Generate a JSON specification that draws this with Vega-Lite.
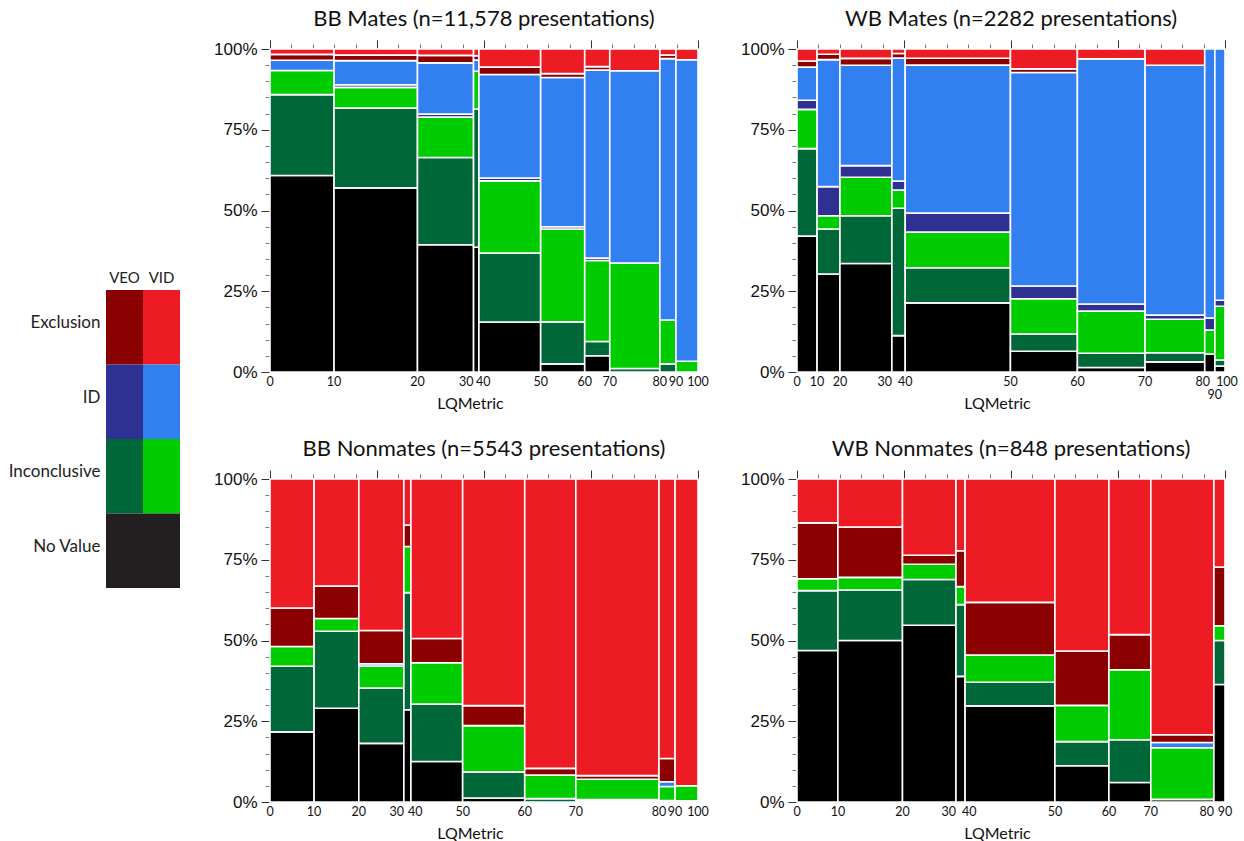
{
  "$schema": "https://vega.github.io/schema/vega-lite/v6.json",
  "padding": {"left": 8, "top": 7, "right": 5, "bottom": 5},
  "background": "white",
  "config": {"view": {"stroke": null}, "font": "Lato"},
  "spacing": 33,
  "resolve": {"scale": {"color": "independent"}},
  "hconcat": [
    {
      "width": 74,
      "height": 760,
      "data": {
        "values": [
          {"verdict": "Exclusion", "source": "VEO", "cat": "Exclusion VEO"},
          {"verdict": "Exclusion", "source": "VID", "cat": "Exclusion VID"},
          {"verdict": "ID", "source": "VEO", "cat": "ID VEO"},
          {"verdict": "ID", "source": "VID", "cat": "ID VID"},
          {"verdict": "Inconclusive", "source": "VEO", "cat": "Inconclusive VEO"},
          {"verdict": "Inconclusive", "source": "VID", "cat": "Inconclusive VID"},
          {"verdict": "No Value", "source": "VEO", "cat": "No Value"},
          {"verdict": "No Value", "source": "VID", "cat": "No Value"}
        ]
      },
      "encoding": {
        "x": {"field": "source", "type": "nominal", "axis": null, "scale": {"paddingInner": 0, "paddingOuter": 0}},
        "y": {
          "field": "verdict",
          "type": "nominal",
          "sort": ["Exclusion", "ID", "Inconclusive", "No Value"],
          "scale": {"paddingInner": 0, "paddingOuter": 0, "range": [241, 539]},
          "axis": {"title": null, "domain": false, "ticks": false, "labelFont": "Lato", "labelFontSize": 17, "labelColor": "#222", "labelPadding": 6, "labelOffset": -4}
        }
      },
      "layer": [
        {
          "mark": {"type": "rect"},
          "encoding": {
            "color": {
              "field": "cat",
              "type": "nominal",
              "legend": null,
              "scale": {
                "domain": ["No Value", "Inconclusive VEO", "Inconclusive VID", "ID VEO", "ID VID", "Exclusion VEO", "Exclusion VID"],
                "range": ["#231f20", "#006838", "#00cc00", "#2e3192", "#327ff0", "#8b0000", "#ed1c24"]
              }
            }
          }
        },
        {
          "transform": [{"filter": "datum.verdict == 'Exclusion'"}],
          "mark": {"type": "text", "baseline": "alphabetic", "dy": -44, "font": "Lato", "fontSize": 15, "color": "#222"},
          "encoding": {"text": {"field": "source"}}
        }
      ]
    },
    {
      "data": {
        "values": [
          {"panel": "BB Mates", "bin": 0, "cat": "No Value", "n": 1054},
          {"panel": "BB Mates", "bin": 0, "cat": "Inconclusive VEO", "n": 434},
          {"panel": "BB Mates", "bin": 0, "cat": "Inconclusive VID", "n": 130},
          {"panel": "BB Mates", "bin": 0, "cat": "ID VID", "n": 55},
          {"panel": "BB Mates", "bin": 0, "cat": "Exclusion VEO", "n": 31},
          {"panel": "BB Mates", "bin": 0, "cat": "Exclusion VID", "n": 29},
          {"panel": "BB Mates", "bin": 10, "cat": "No Value", "n": 1287},
          {"panel": "BB Mates", "bin": 10, "cat": "Inconclusive VEO", "n": 558},
          {"panel": "BB Mates", "bin": 10, "cat": "Inconclusive VID", "n": 145},
          {"panel": "BB Mates", "bin": 10, "cat": "ID VEO", "n": 18},
          {"panel": "BB Mates", "bin": 10, "cat": "ID VID", "n": 169},
          {"panel": "BB Mates", "bin": 10, "cat": "Exclusion VEO", "n": 38},
          {"panel": "BB Mates", "bin": 10, "cat": "Exclusion VID", "n": 43},
          {"panel": "BB Mates", "bin": 20, "cat": "No Value", "n": 598},
          {"panel": "BB Mates", "bin": 20, "cat": "Inconclusive VEO", "n": 410},
          {"panel": "BB Mates", "bin": 20, "cat": "Inconclusive VID", "n": 190},
          {"panel": "BB Mates", "bin": 20, "cat": "ID VEO", "n": 14},
          {"panel": "BB Mates", "bin": 20, "cat": "ID VID", "n": 241},
          {"panel": "BB Mates", "bin": 20, "cat": "Exclusion VEO", "n": 35},
          {"panel": "BB Mates", "bin": 20, "cat": "Exclusion VID", "n": 30},
          {"panel": "BB Mates", "bin": 30, "cat": "No Value", "n": 56},
          {"panel": "BB Mates", "bin": 30, "cat": "Inconclusive VEO", "n": 62},
          {"panel": "BB Mates", "bin": 30, "cat": "Inconclusive VID", "n": 17},
          {"panel": "BB Mates", "bin": 30, "cat": "ID VID", "n": 5},
          {"panel": "BB Mates", "bin": 30, "cat": "Exclusion VEO", "n": 2},
          {"panel": "BB Mates", "bin": 30, "cat": "Exclusion VID", "n": 3},
          {"panel": "BB Mates", "bin": 40, "cat": "No Value", "n": 259},
          {"panel": "BB Mates", "bin": 40, "cat": "Inconclusive VEO", "n": 356},
          {"panel": "BB Mates", "bin": 40, "cat": "Inconclusive VID", "n": 374},
          {"panel": "BB Mates", "bin": 40, "cat": "ID VEO", "n": 15},
          {"panel": "BB Mates", "bin": 40, "cat": "ID VID", "n": 535},
          {"panel": "BB Mates", "bin": 40, "cat": "Exclusion VEO", "n": 38},
          {"panel": "BB Mates", "bin": 40, "cat": "Exclusion VID", "n": 94},
          {"panel": "BB Mates", "bin": 50, "cat": "No Value", "n": 30},
          {"panel": "BB Mates", "bin": 50, "cat": "Inconclusive VEO", "n": 155},
          {"panel": "BB Mates", "bin": 50, "cat": "Inconclusive VID", "n": 343},
          {"panel": "BB Mates", "bin": 50, "cat": "ID VEO", "n": 8},
          {"panel": "BB Mates", "bin": 50, "cat": "ID VID", "n": 551},
          {"panel": "BB Mates", "bin": 50, "cat": "Exclusion VEO", "n": 14},
          {"panel": "BB Mates", "bin": 50, "cat": "Exclusion VID", "n": 91},
          {"panel": "BB Mates", "bin": 60, "cat": "No Value", "n": 34},
          {"panel": "BB Mates", "bin": 60, "cat": "Inconclusive VEO", "n": 30},
          {"panel": "BB Mates", "bin": 60, "cat": "Inconclusive VID", "n": 170},
          {"panel": "BB Mates", "bin": 60, "cat": "ID VEO", "n": 5},
          {"panel": "BB Mates", "bin": 60, "cat": "ID VID", "n": 395},
          {"panel": "BB Mates", "bin": 60, "cat": "Exclusion VEO", "n": 7},
          {"panel": "BB Mates", "bin": 60, "cat": "Exclusion VID", "n": 37},
          {"panel": "BB Mates", "bin": 70, "cat": "Inconclusive VEO", "n": 15},
          {"panel": "BB Mates", "bin": 70, "cat": "Inconclusive VID", "n": 442},
          {"panel": "BB Mates", "bin": 70, "cat": "ID VID", "n": 808},
          {"panel": "BB Mates", "bin": 70, "cat": "Exclusion VID", "n": 91},
          {"panel": "BB Mates", "bin": 80, "cat": "Inconclusive VEO", "n": 11},
          {"panel": "BB Mates", "bin": 80, "cat": "Inconclusive VID", "n": 59},
          {"panel": "BB Mates", "bin": 80, "cat": "ID VID", "n": 352},
          {"panel": "BB Mates", "bin": 80, "cat": "Exclusion VEO", "n": 5},
          {"panel": "BB Mates", "bin": 80, "cat": "Exclusion VID", "n": 8},
          {"panel": "BB Mates", "bin": 90, "cat": "Inconclusive VID", "n": 20},
          {"panel": "BB Mates", "bin": 90, "cat": "ID VID", "n": 557},
          {"panel": "BB Mates", "bin": 90, "cat": "Exclusion VID", "n": 20},
          {"panel": "BB Mates", "bin": 100, "cat": "No Value", "n": 0},

          {"panel": "WB Mates", "bin": 0, "cat": "No Value", "n": 45},
          {"panel": "WB Mates", "bin": 0, "cat": "Inconclusive VEO", "n": 29},
          {"panel": "WB Mates", "bin": 0, "cat": "Inconclusive VID", "n": 13},
          {"panel": "WB Mates", "bin": 0, "cat": "ID VEO", "n": 3},
          {"panel": "WB Mates", "bin": 0, "cat": "ID VID", "n": 11},
          {"panel": "WB Mates", "bin": 0, "cat": "Exclusion VEO", "n": 2},
          {"panel": "WB Mates", "bin": 0, "cat": "Exclusion VID", "n": 4},
          {"panel": "WB Mates", "bin": 10, "cat": "No Value", "n": 37},
          {"panel": "WB Mates", "bin": 10, "cat": "Inconclusive VEO", "n": 17},
          {"panel": "WB Mates", "bin": 10, "cat": "Inconclusive VID", "n": 5},
          {"panel": "WB Mates", "bin": 10, "cat": "ID VEO", "n": 11},
          {"panel": "WB Mates", "bin": 10, "cat": "ID VID", "n": 48},
          {"panel": "WB Mates", "bin": 10, "cat": "Exclusion VEO", "n": 2},
          {"panel": "WB Mates", "bin": 10, "cat": "Exclusion VID", "n": 2},
          {"panel": "WB Mates", "bin": 20, "cat": "No Value", "n": 93},
          {"panel": "WB Mates", "bin": 20, "cat": "Inconclusive VEO", "n": 41},
          {"panel": "WB Mates", "bin": 20, "cat": "Inconclusive VID", "n": 33},
          {"panel": "WB Mates", "bin": 20, "cat": "ID VEO", "n": 10},
          {"panel": "WB Mates", "bin": 20, "cat": "ID VID", "n": 86},
          {"panel": "WB Mates", "bin": 20, "cat": "Exclusion VEO", "n": 6},
          {"panel": "WB Mates", "bin": 20, "cat": "Exclusion VID", "n": 8},
          {"panel": "WB Mates", "bin": 30, "cat": "No Value", "n": 8},
          {"panel": "WB Mates", "bin": 30, "cat": "Inconclusive VEO", "n": 28},
          {"panel": "WB Mates", "bin": 30, "cat": "Inconclusive VID", "n": 4},
          {"panel": "WB Mates", "bin": 30, "cat": "ID VEO", "n": 2},
          {"panel": "WB Mates", "bin": 30, "cat": "ID VID", "n": 27},
          {"panel": "WB Mates", "bin": 30, "cat": "Exclusion VEO", "n": 1},
          {"panel": "WB Mates", "bin": 30, "cat": "Exclusion VID", "n": 1},
          {"panel": "WB Mates", "bin": 40, "cat": "No Value", "n": 120},
          {"panel": "WB Mates", "bin": 40, "cat": "Inconclusive VEO", "n": 61},
          {"panel": "WB Mates", "bin": 40, "cat": "Inconclusive VID", "n": 62},
          {"panel": "WB Mates", "bin": 40, "cat": "ID VEO", "n": 33},
          {"panel": "WB Mates", "bin": 40, "cat": "ID VID", "n": 257},
          {"panel": "WB Mates", "bin": 40, "cat": "Exclusion VEO", "n": 12},
          {"panel": "WB Mates", "bin": 40, "cat": "Exclusion VID", "n": 16},
          {"panel": "WB Mates", "bin": 50, "cat": "No Value", "n": 23},
          {"panel": "WB Mates", "bin": 50, "cat": "Inconclusive VEO", "n": 19},
          {"panel": "WB Mates", "bin": 50, "cat": "Inconclusive VID", "n": 39},
          {"panel": "WB Mates", "bin": 50, "cat": "ID VEO", "n": 14},
          {"panel": "WB Mates", "bin": 50, "cat": "ID VID", "n": 236},
          {"panel": "WB Mates", "bin": 50, "cat": "Exclusion VEO", "n": 4},
          {"panel": "WB Mates", "bin": 50, "cat": "Exclusion VID", "n": 22},
          {"panel": "WB Mates", "bin": 60, "cat": "No Value", "n": 5},
          {"panel": "WB Mates", "bin": 60, "cat": "Inconclusive VEO", "n": 16},
          {"panel": "WB Mates", "bin": 60, "cat": "Inconclusive VID", "n": 47},
          {"panel": "WB Mates", "bin": 60, "cat": "ID VEO", "n": 8},
          {"panel": "WB Mates", "bin": 60, "cat": "ID VID", "n": 274},
          {"panel": "WB Mates", "bin": 60, "cat": "Exclusion VID", "n": 11},
          {"panel": "WB Mates", "bin": 70, "cat": "No Value", "n": 10},
          {"panel": "WB Mates", "bin": 70, "cat": "Inconclusive VEO", "n": 9},
          {"panel": "WB Mates", "bin": 70, "cat": "Inconclusive VID", "n": 33},
          {"panel": "WB Mates", "bin": 70, "cat": "ID VEO", "n": 4},
          {"panel": "WB Mates", "bin": 70, "cat": "ID VID", "n": 246},
          {"panel": "WB Mates", "bin": 70, "cat": "Exclusion VID", "n": 16},
          {"panel": "WB Mates", "bin": 80, "cat": "No Value", "n": 3},
          {"panel": "WB Mates", "bin": 80, "cat": "Inconclusive VID", "n": 4},
          {"panel": "WB Mates", "bin": 80, "cat": "ID VEO", "n": 2},
          {"panel": "WB Mates", "bin": 80, "cat": "ID VID", "n": 45},
          {"panel": "WB Mates", "bin": 90, "cat": "No Value", "n": 1},
          {"panel": "WB Mates", "bin": 90, "cat": "Inconclusive VEO", "n": 1},
          {"panel": "WB Mates", "bin": 90, "cat": "Inconclusive VID", "n": 9},
          {"panel": "WB Mates", "bin": 90, "cat": "ID VEO", "n": 1},
          {"panel": "WB Mates", "bin": 90, "cat": "ID VID", "n": 42},
          {"panel": "WB Mates", "bin": 100, "cat": "No Value", "n": 0},

          {"panel": "BB Nonmates", "bin": 0, "cat": "No Value", "n": 124},
          {"panel": "BB Nonmates", "bin": 0, "cat": "Inconclusive VEO", "n": 116},
          {"panel": "BB Nonmates", "bin": 0, "cat": "Inconclusive VID", "n": 35},
          {"panel": "BB Nonmates", "bin": 0, "cat": "Exclusion VEO", "n": 68},
          {"panel": "BB Nonmates", "bin": 0, "cat": "Exclusion VID", "n": 228},
          {"panel": "BB Nonmates", "bin": 10, "cat": "No Value", "n": 168},
          {"panel": "BB Nonmates", "bin": 10, "cat": "Inconclusive VEO", "n": 138},
          {"panel": "BB Nonmates", "bin": 10, "cat": "Inconclusive VID", "n": 23},
          {"panel": "BB Nonmates", "bin": 10, "cat": "Exclusion VEO", "n": 58},
          {"panel": "BB Nonmates", "bin": 10, "cat": "Exclusion VID", "n": 192},
          {"panel": "BB Nonmates", "bin": 20, "cat": "No Value", "n": 106},
          {"panel": "BB Nonmates", "bin": 20, "cat": "Inconclusive VEO", "n": 100},
          {"panel": "BB Nonmates", "bin": 20, "cat": "Inconclusive VID", "n": 40},
          {"panel": "BB Nonmates", "bin": 20, "cat": "ID VID", "n": 4},
          {"panel": "BB Nonmates", "bin": 20, "cat": "Exclusion VEO", "n": 60},
          {"panel": "BB Nonmates", "bin": 20, "cat": "Exclusion VID", "n": 274},
          {"panel": "BB Nonmates", "bin": 30, "cat": "No Value", "n": 26},
          {"panel": "BB Nonmates", "bin": 30, "cat": "Inconclusive VEO", "n": 33},
          {"panel": "BB Nonmates", "bin": 30, "cat": "Inconclusive VID", "n": 13},
          {"panel": "BB Nonmates", "bin": 30, "cat": "Exclusion VEO", "n": 6},
          {"panel": "BB Nonmates", "bin": 30, "cat": "Exclusion VID", "n": 13},
          {"panel": "BB Nonmates", "bin": 40, "cat": "No Value", "n": 84},
          {"panel": "BB Nonmates", "bin": 40, "cat": "Inconclusive VEO", "n": 119},
          {"panel": "BB Nonmates", "bin": 40, "cat": "Inconclusive VID", "n": 86},
          {"panel": "BB Nonmates", "bin": 40, "cat": "Exclusion VEO", "n": 50},
          {"panel": "BB Nonmates", "bin": 40, "cat": "Exclusion VID", "n": 331},
          {"panel": "BB Nonmates", "bin": 50, "cat": "No Value", "n": 10},
          {"panel": "BB Nonmates", "bin": 50, "cat": "Inconclusive VEO", "n": 65},
          {"panel": "BB Nonmates", "bin": 50, "cat": "Inconclusive VID", "n": 115},
          {"panel": "BB Nonmates", "bin": 50, "cat": "Exclusion VEO", "n": 50},
          {"panel": "BB Nonmates", "bin": 50, "cat": "Exclusion VID", "n": 564},
          {"panel": "BB Nonmates", "bin": 60, "cat": "Inconclusive VEO", "n": 7},
          {"panel": "BB Nonmates", "bin": 60, "cat": "Inconclusive VID", "n": 48},
          {"panel": "BB Nonmates", "bin": 60, "cat": "Exclusion VEO", "n": 14},
          {"panel": "BB Nonmates", "bin": 60, "cat": "Exclusion VID", "n": 593},
          {"panel": "BB Nonmates", "bin": 70, "cat": "No Value", "n": 2},
          {"panel": "BB Nonmates", "bin": 70, "cat": "Inconclusive VEO", "n": 6},
          {"panel": "BB Nonmates", "bin": 70, "cat": "Inconclusive VID", "n": 68},
          {"panel": "BB Nonmates", "bin": 70, "cat": "Exclusion VEO", "n": 12},
          {"panel": "BB Nonmates", "bin": 70, "cat": "Exclusion VID", "n": 989},
          {"panel": "BB Nonmates", "bin": 80, "cat": "No Value", "n": 1},
          {"panel": "BB Nonmates", "bin": 80, "cat": "Inconclusive VID", "n": 9},
          {"panel": "BB Nonmates", "bin": 80, "cat": "ID VID", "n": 3},
          {"panel": "BB Nonmates", "bin": 80, "cat": "Exclusion VEO", "n": 15},
          {"panel": "BB Nonmates", "bin": 80, "cat": "Exclusion VID", "n": 180},
          {"panel": "BB Nonmates", "bin": 90, "cat": "No Value", "n": 1},
          {"panel": "BB Nonmates", "bin": 90, "cat": "Inconclusive VID", "n": 14},
          {"panel": "BB Nonmates", "bin": 90, "cat": "Exclusion VID", "n": 282},
          {"panel": "BB Nonmates", "bin": 100, "cat": "No Value", "n": 0},

          {"panel": "WB Nonmates", "bin": 0, "cat": "No Value", "n": 38},
          {"panel": "WB Nonmates", "bin": 0, "cat": "Inconclusive VEO", "n": 15},
          {"panel": "WB Nonmates", "bin": 0, "cat": "Inconclusive VID", "n": 3},
          {"panel": "WB Nonmates", "bin": 0, "cat": "Exclusion VEO", "n": 14},
          {"panel": "WB Nonmates", "bin": 0, "cat": "Exclusion VID", "n": 11},
          {"panel": "WB Nonmates", "bin": 10, "cat": "No Value", "n": 64},
          {"panel": "WB Nonmates", "bin": 10, "cat": "Inconclusive VEO", "n": 20},
          {"panel": "WB Nonmates", "bin": 10, "cat": "Inconclusive VID", "n": 5},
          {"panel": "WB Nonmates", "bin": 10, "cat": "Exclusion VEO", "n": 20},
          {"panel": "WB Nonmates", "bin": 10, "cat": "Exclusion VID", "n": 19},
          {"panel": "WB Nonmates", "bin": 20, "cat": "No Value", "n": 58},
          {"panel": "WB Nonmates", "bin": 20, "cat": "Inconclusive VEO", "n": 15},
          {"panel": "WB Nonmates", "bin": 20, "cat": "Inconclusive VID", "n": 5},
          {"panel": "WB Nonmates", "bin": 20, "cat": "Exclusion VEO", "n": 3},
          {"panel": "WB Nonmates", "bin": 20, "cat": "Exclusion VID", "n": 25},
          {"panel": "WB Nonmates", "bin": 30, "cat": "No Value", "n": 7},
          {"panel": "WB Nonmates", "bin": 30, "cat": "Inconclusive VEO", "n": 4},
          {"panel": "WB Nonmates", "bin": 30, "cat": "Inconclusive VID", "n": 1},
          {"panel": "WB Nonmates", "bin": 30, "cat": "Exclusion VEO", "n": 2},
          {"panel": "WB Nonmates", "bin": 30, "cat": "Exclusion VID", "n": 4},
          {"panel": "WB Nonmates", "bin": 40, "cat": "No Value", "n": 53},
          {"panel": "WB Nonmates", "bin": 40, "cat": "Inconclusive VEO", "n": 13},
          {"panel": "WB Nonmates", "bin": 40, "cat": "Inconclusive VID", "n": 15},
          {"panel": "WB Nonmates", "bin": 40, "cat": "Exclusion VEO", "n": 29},
          {"panel": "WB Nonmates", "bin": 40, "cat": "Exclusion VID", "n": 68},
          {"panel": "WB Nonmates", "bin": 50, "cat": "No Value", "n": 12},
          {"panel": "WB Nonmates", "bin": 50, "cat": "Inconclusive VEO", "n": 8},
          {"panel": "WB Nonmates", "bin": 50, "cat": "Inconclusive VID", "n": 12},
          {"panel": "WB Nonmates", "bin": 50, "cat": "Exclusion VEO", "n": 18},
          {"panel": "WB Nonmates", "bin": 50, "cat": "Exclusion VID", "n": 57},
          {"panel": "WB Nonmates", "bin": 60, "cat": "No Value", "n": 5},
          {"panel": "WB Nonmates", "bin": 60, "cat": "Inconclusive VEO", "n": 11},
          {"panel": "WB Nonmates", "bin": 60, "cat": "Inconclusive VID", "n": 18},
          {"panel": "WB Nonmates", "bin": 60, "cat": "Exclusion VEO", "n": 9},
          {"panel": "WB Nonmates", "bin": 60, "cat": "Exclusion VID", "n": 40},
          {"panel": "WB Nonmates", "bin": 70, "cat": "No Value", "n": 1},
          {"panel": "WB Nonmates", "bin": 70, "cat": "Inconclusive VID", "n": 20},
          {"panel": "WB Nonmates", "bin": 70, "cat": "ID VID", "n": 2},
          {"panel": "WB Nonmates", "bin": 70, "cat": "Exclusion VEO", "n": 3},
          {"panel": "WB Nonmates", "bin": 70, "cat": "Exclusion VID", "n": 99},
          {"panel": "WB Nonmates", "bin": 80, "cat": "No Value", "n": 8},
          {"panel": "WB Nonmates", "bin": 80, "cat": "Inconclusive VEO", "n": 3},
          {"panel": "WB Nonmates", "bin": 80, "cat": "Inconclusive VID", "n": 1},
          {"panel": "WB Nonmates", "bin": 80, "cat": "Exclusion VEO", "n": 4},
          {"panel": "WB Nonmates", "bin": 80, "cat": "Exclusion VID", "n": 6},
          {"panel": "WB Nonmates", "bin": 90, "cat": "No Value", "n": 0}
        ]
      },
      "transform": [
        {"calculate": "indexof(['No Value','Inconclusive VEO','Inconclusive VID','ID VEO','ID VID','Exclusion VEO','Exclusion VID'], datum.cat)", "as": "ord"},
        {"stack": "n", "groupby": ["panel"], "sort": [{"field": "bin", "order": "ascending"}, {"field": "ord", "order": "ascending"}], "offset": "normalize", "as": ["s0", "s1"]},
        {"joinaggregate": [{"op": "min", "field": "s0", "as": "x0"}, {"op": "max", "field": "s1", "as": "x1"}], "groupby": ["panel", "bin"]},
        {"stack": "n", "groupby": ["panel", "bin"], "sort": [{"field": "ord", "order": "ascending"}], "offset": "normalize", "as": ["y0", "y1"]}
      ],
      "facet": {
        "field": "panel",
        "type": "nominal",
        "sort": ["BB Mates", "WB Mates", "BB Nonmates", "WB Nonmates"],
        "title": null,
        "header": {
          "labelExpr": "datum.value == 'BB Mates' ? 'BB Mates (n=11,578 presentations)' : datum.value == 'WB Mates' ? 'WB Mates (n=2282 presentations)' : datum.value == 'BB Nonmates' ? 'BB Nonmates (n=5543 presentations)' : 'WB Nonmates (n=848 presentations)'",
          "labelFont": "Lato",
          "labelFontSize": 22,
          "labelColor": "#111",
          "labelPadding": 9
        }
      },
      "columns": 2,
      "spacing": {"row": 26, "column": 29},
      "resolve": {"axis": {"x": "independent", "y": "independent"}},
      "spec": {
        "width": 428,
        "height": 323,
        "resolve": {"axis": {"x": "independent"}},
        "layer": [
          {
            "transform": [{"filter": "datum.n > 0"}],
            "mark": {"type": "rect", "stroke": "white", "strokeWidth": 1.6},
            "encoding": {
              "x": {
                "field": "x0",
                "type": "quantitative",
                "scale": {"domain": [0, 1], "nice": false, "zero": false},
                "axis": {
                  "orient": "top",
                  "title": null,
                  "labels": false,
                  "domain": false,
                  "grid": false,
                  "values": [0, 0.05, 0.1, 0.15, 0.2, 0.25, 0.3, 0.35, 0.4, 0.45, 0.5, 0.55, 0.6, 0.65, 0.7, 0.75, 0.8, 0.85, 0.9, 0.95, 1],
                  "tickSize": {"condition": {"test": "abs(datum.value * 4 - round(datum.value * 4)) < 0.001", "value": 9}, "value": 5},
                  "tickColor": {"condition": {"test": "abs(datum.value * 4 - round(datum.value * 4)) < 0.001", "value": "#333"}, "value": "#777"}
                }
              },
              "x2": {"field": "x1"},
              "y": {
                "field": "y0",
                "type": "quantitative",
                "scale": {"domain": [0, 1], "nice": false},
                "axis": {
                  "orient": "left",
                  "title": null,
                  "domain": false,
                  "grid": false,
                  "values": [0, 0.05, 0.1, 0.15, 0.2, 0.25, 0.3, 0.35, 0.4, 0.45, 0.5, 0.55, 0.6, 0.65, 0.7, 0.75, 0.8, 0.85, 0.9, 0.95, 1],
                  "labelExpr": "abs(datum.value * 4 - round(datum.value * 4)) < 0.001 ? format(datum.value, '.0%') : ''",
                  "labelFont": "Liberation Sans",
                  "labelFontSize": 17,
                  "labelColor": "#111",
                  "labelPadding": 4,
                  "tickSize": {"condition": {"test": "abs(datum.value * 4 - round(datum.value * 4)) < 0.001", "value": 9}, "value": 5},
                  "tickColor": {"condition": {"test": "abs(datum.value * 4 - round(datum.value * 4)) < 0.001", "value": "#333"}, "value": "#777"}
                }
              },
              "y2": {"field": "y1"},
              "color": {
                "field": "cat",
                "type": "nominal",
                "legend": null,
                "scale": {
                  "domain": ["No Value", "Inconclusive VEO", "Inconclusive VID", "ID VEO", "ID VID", "Exclusion VEO", "Exclusion VID"],
                  "range": ["#000000", "#006838", "#00cc00", "#2e3192", "#327ff0", "#8b0000", "#ed1c24"]
                }
              }
            }
          },
          {
            "transform": [
              {"aggregate": [{"op": "min", "field": "x0", "as": "lx"}], "groupby": ["panel", "bin"]},
              {"window": [{"op": "lag", "field": "lx", "as": "prev"}, {"op": "lead", "field": "lx", "as": "next"}], "sort": [{"field": "lx", "order": "ascending"}], "groupby": ["panel"]},
              {"calculate": "isValid(datum.prev) ? datum.lx - datum.prev : 1", "as": "gp"},
              {"calculate": "isValid(datum.next) ? datum.next - datum.lx : 1", "as": "gn"},
              {"calculate": "datum.gp < 0.03 && datum.gn < 0.03", "as": "stag"},
              {"window": [{"op": "lag", "field": "stag", "as": "pstag"}, {"op": "lead", "field": "stag", "as": "nstag"}], "sort": [{"field": "lx", "order": "ascending"}], "groupby": ["panel"]},
              {"calculate": "datum.stag ? 'stag' : datum.nstag ? 'nst' : datum.pstag ? 'pst' : (datum.gn < 0.035 ? 'right' : (datum.gp < 0.025 && datum.gn < 1 ? 'left' : 'center'))", "as": "pos"}
            ],
            "encoding": {
              "x": {
                "field": "lx",
                "type": "quantitative",
                "axis": {
                  "orient": "bottom",
                  "title": "LQMetric",
                  "labels": false,
                  "ticks": false,
                  "domain": false,
                  "grid": false,
                  "titleFont": "Lato",
                  "titleFontSize": 16,
                  "titleFontWeight": "normal",
                  "titleColor": "#111",
                  "titleX": 200,
                  "titleY": 36,
                  "titleAlign": "center",
                  "titleBaseline": "alphabetic"
                }
              },
              "y": {"value": "height"},
              "text": {"field": "bin", "type": "nominal"}
            },
            "layer": [
              {
                "transform": [{"filter": "datum.pos == 'center'"}],
                "mark": {"type": "text", "baseline": "top", "align": "center", "dy": 4, "font": "Lato", "fontSize": 12.5, "color": "#111"}
              },
              {
                "transform": [{"filter": "datum.pos == 'right'"}],
                "mark": {"type": "text", "baseline": "top", "align": "right", "dy": 4, "dx": 0, "font": "Lato", "fontSize": 12.5, "color": "#111"}
              },
              {
                "transform": [{"filter": "datum.pos == 'left'"}],
                "mark": {"type": "text", "baseline": "top", "align": "left", "dy": 4, "dx": -3, "font": "Lato", "fontSize": 12.5, "color": "#111"}
              },
              {
                "transform": [{"filter": "datum.pos == 'nst'"}],
                "mark": {"type": "text", "baseline": "top", "align": "center", "dy": 4, "dx": -2, "font": "Lato", "fontSize": 12.5, "color": "#111"}
              },
              {
                "transform": [{"filter": "datum.pos == 'pst'"}],
                "mark": {"type": "text", "baseline": "top", "align": "center", "dy": 4, "dx": 2, "font": "Lato", "fontSize": 12.5, "color": "#111"}
              },
              {
                "transform": [{"filter": "datum.pos == 'stag'"}],
                "mark": {"type": "text", "baseline": "top", "align": "center", "dy": 17, "font": "Lato", "fontSize": 12.5, "color": "#111"}
              }
            ]
          }
        ]
      }
    }
  ]
}
